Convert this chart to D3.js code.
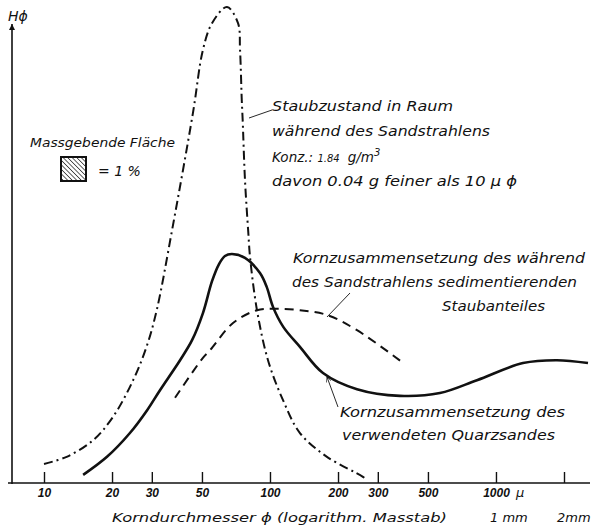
<!DOCTYPE html>
<html>
<head>
<meta charset="utf-8">
<script src="https://cdn.jsdelivr.net/npm/d3@7"></script>
<style>
  html, body { margin: 0; padding: 0; background: #fff; }
  svg { display: block; }
  text { font-family: "DejaVu Sans", sans-serif; font-style: italic; fill: #111; }
</style>
</head>
<body>
<svg id="chart" width="592" height="529"></svg>
<script>
// Grain-size axis (µ, logarithmic) and tick labels
const xTicks = [10, 20, 30, 50, 100, 200, 300, 500, 1000, 2000];
const xTickLabels = ["10", "20", "30", "50", "100", "200", "300", "500", "1000", ""];

// Dust in the room during sandblasting (dash-dot curve)
const staubD = [10.0, 12.6, 16.5, 20.2, 24.8, 28.6, 31.6, 36.9, 45.6, 50.5, 55.4, 64.5, 72.2, 73.7, 75.0, 75.7, 77.5, 80.2, 81.6, 87.6, 98.0, 114.2, 135.7, 178.7, 257.9, 268.7];
const staubH = [4.0, 5.5, 9.0, 13.9, 21.6, 29.0, 36.5, 53.2, 77.7, 91.0, 96.6, 100.0, 96.6, 91.0, 80.5, 76.3, 63.7, 52.5, 47.5, 36.3, 25.8, 17.4, 10.5, 5.5, 1.3, 0.6];

// Grain composition of the quartz sand used (solid curve)
const sandD = [14.9, 19.0, 24.0, 28.6, 32.6, 40.0, 45.2, 50.5, 55.4, 59.5, 63.2, 67.9, 77.5, 90.3, 96.7, 103.1, 114.5, 135.7, 171.6, 242.7, 376, 565, 824, 1317, 1862, 2554];
const sandH = [1.7, 5.5, 10.5, 15.3, 19.5, 25.8, 30.0, 35.7, 42.4, 46.0, 47.7, 48.1, 47.3, 44.1, 41.2, 37.0, 32.8, 28.6, 23.1, 19.7, 18.3, 18.9, 21.6, 25.2, 25.8, 25.2];

// Grain composition of the dust settling during sandblasting (dashed curve)
const sedD = [38.0, 50.5, 54.3, 68.6, 87.6, 107.4, 135.7, 178.7, 242.7, 383.7];
const sedH = [17.9, 26.3, 27.9, 33.6, 36.3, 36.6, 36.3, 35.3, 32.1, 25.4];

const svg = d3.select("#chart");

const x = d3.scaleLog().domain([10, 2000]).range([44, 564]);
const y = d3.scaleLinear().domain([0, 100]).range([483, 7]);

// hatch pattern for the reference-area square
const defs = svg.append("defs");
const pat = defs.append("pattern")
  .attr("id", "hatch").attr("patternUnits", "userSpaceOnUse")
  .attr("width", 3.2).attr("height", 3.2)
  .attr("patternTransform", "rotate(-45)");
pat.append("rect").attr("width", 3.2).attr("height", 3.2).attr("fill", "#fff");
pat.append("line").attr("x1", 0).attr("y1", 0).attr("x2", 0).attr("y2", 3.2)
  .attr("stroke", "#111").attr("stroke-width", 1.3);

defs.append("marker").attr("id", "arrowUp")
  .attr("viewBox", "0 0 10 10").attr("refX", 10).attr("refY", 5)
  .attr("markerWidth", 9).attr("markerHeight", 6).attr("markerUnits", "userSpaceOnUse")
  .attr("orient", "auto")
  .append("path").attr("d", "M0,0 L10,5 L0,10 Z").attr("fill", "#111");

defs.append("marker").attr("id", "arrowOpen")
  .attr("viewBox", "0 0 10 10").attr("refX", 10).attr("refY", 5)
  .attr("markerWidth", 7).attr("markerHeight", 5).attr("markerUnits", "userSpaceOnUse")
  .attr("orient", "auto")
  .append("path").attr("d", "M0,0 L10,5 L0,10").attr("fill", "none")
  .attr("stroke", "#111").attr("stroke-width", 1.2);

// ---- axes ----
svg.append("line")
  .attr("x1", 8).attr("x2", 590).attr("y1", y(0)).attr("y2", y(0))
  .attr("stroke", "#111").attr("stroke-width", 1.6);

svg.append("line")
  .attr("x1", 12).attr("x2", 12).attr("y1", y(0) + 1).attr("y2", 24)
  .attr("stroke", "#111").attr("stroke-width", 1.6)
  .attr("marker-end", "url(#arrowUp)");

svg.append("text").attr("x", 8).attr("y", 21)
  .style("font-size", "14px").text("Hϕ");

const xAxis = d3.axisBottom(x)
  .tickValues(xTicks)
  .tickFormat((d, i) => xTickLabels[i])
  .tickSizeInner(-11).tickSizeOuter(0).tickPadding(5);

const gx = svg.append("g").attr("transform", `translate(0,${y(0)})`).call(xAxis);
gx.select(".domain").remove();
gx.selectAll(".tick line").attr("stroke", "#111").attr("stroke-width", 1.4);
gx.selectAll(".tick text")
  .attr("fill", "#111")
  .style("font-family", "'Liberation Sans', sans-serif")
  .style("font-style", "italic").style("font-weight", "bold")
  .style("font-size", "12px");

svg.append("text").attr("x", 516).attr("y", 497)
  .style("font-size", "13px").text("μ");

svg.append("text").attr("x", 112).attr("y", 522)
  .attr("textLength", 335).attr("lengthAdjust", "spacingAndGlyphs")
  .style("font-size", "13px").text("Korndurchmesser ϕ (logarithm. Masstab)");
svg.append("text").attr("x", 490).attr("y", 522)
  .style("font-size", "13px").text("1 mm");
svg.append("text").attr("x", 557).attr("y", 522)
  .style("font-size", "13px").text("2mm");

// ---- curves ----
const line = d3.line().x(d => x(d[0])).y(d => y(d[1])).curve(d3.curveCatmullRom.alpha(0.5));

svg.append("path")
  .datum(staubD.map((d, i) => [d, staubH[i]]))
  .attr("d", line).attr("fill", "none")
  .attr("stroke", "#111").attr("stroke-width", 2)
  .attr("stroke-dasharray", "9,4,2,4");

svg.append("path")
  .datum(sedD.map((d, i) => [d, sedH[i]]))
  .attr("d", line).attr("fill", "none")
  .attr("stroke", "#111").attr("stroke-width", 2)
  .attr("stroke-dasharray", "9,6");

svg.append("path")
  .datum(sandD.map((d, i) => [d, sandH[i]]))
  .attr("d", line).attr("fill", "none")
  .attr("stroke", "#111").attr("stroke-width", 2.6);

// ---- legend square ----
svg.append("text").attr("x", 30).attr("y", 147)
  .attr("textLength", 145).attr("lengthAdjust", "spacingAndGlyphs")
  .style("font-size", "13px").text("Massgebende Fläche");
svg.append("rect").attr("x", 61).attr("y", 157).attr("width", 25).attr("height", 24)
  .attr("fill", "url(#hatch)").attr("stroke", "#111").attr("stroke-width", 2);
svg.append("text").attr("x", 98).attr("y", 176)
  .style("font-size", "14px").text("= 1 %");

// ---- annotations ----
const notes = [
  { t: "Staubzustand in Raum", x: 272, y: 111, w: 181 },
  { t: "während des Sandstrahlens", x: 272, y: 136, w: 218 },
  { t: "davon 0.04 g feiner als 10 μ ϕ", x: 272, y: 186, w: 245 },
  { t: "Kornzusammensetzung des während", x: 293, y: 263, w: 292 },
  { t: "des Sandstrahlens sedimentierenden", x: 292, y: 287, w: 285 },
  { t: "Staubanteiles", x: 442, y: 311, w: 103 },
  { t: "Kornzusammensetzung des", x: 340, y: 417, w: 225 },
  { t: "verwendeten Quarzsandes", x: 342, y: 440, w: 213 }
];
svg.selectAll("text.note").data(notes).enter().append("text")
  .attr("class", "note")
  .attr("x", d => d.x).attr("y", d => d.y)
  .attr("textLength", d => d.w).attr("lengthAdjust", "spacingAndGlyphs")
  .style("font-size", "13.5px").text(d => d.t);

// concentration line with smaller numerals
const konz = svg.append("text").attr("x", 272).attr("y", 162).style("font-size", "13.5px");
konz.append("tspan").text("Konz.: ");
konz.append("tspan").style("font-size", "10px").text("1.84");
konz.append("tspan").attr("dx", 8).text("g/m");
konz.append("tspan").attr("dy", -6).style("font-size", "10px").text("3");

// leader lines
svg.append("line").attr("x1", 272).attr("y1", 110).attr("x2", 249).attr("y2", 118)
  .attr("stroke", "#111").attr("stroke-width", 0.9);
svg.append("line").attr("x1", 350).attr("y1", 293).attr("x2", 327).attr("y2", 317)
  .attr("stroke", "#111").attr("stroke-width", 0.9);
svg.append("line").attr("x1", 338).attr("y1", 407).attr("x2", 327).attr("y2", 377)
  .attr("stroke", "#111").attr("stroke-width", 0.9)
  .attr("marker-end", "url(#arrowOpen)");
</script>
</body>
</html>
